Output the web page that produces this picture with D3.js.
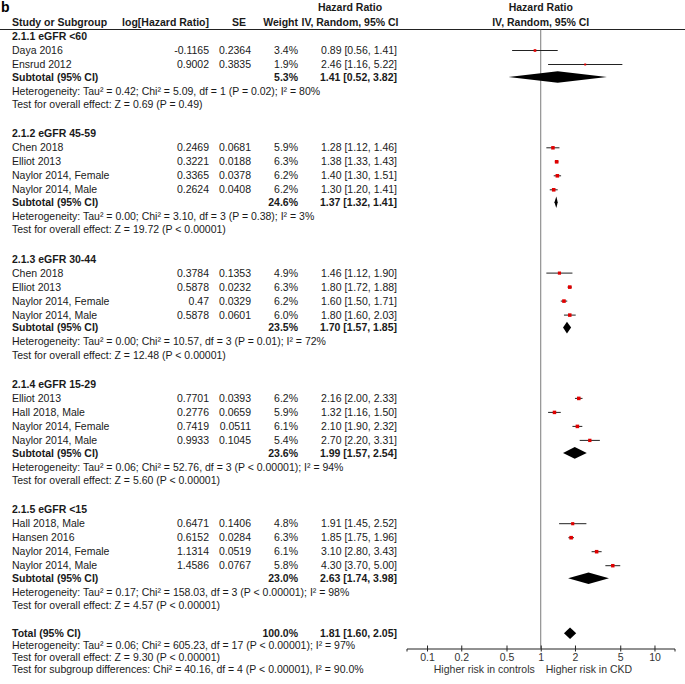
<!DOCTYPE html>
<html>
<head>
<meta charset="utf-8">
<script src="https://cdn.jsdelivr.net/npm/d3@7/dist/d3.min.js"></script>
<style>
  body { margin: 0; background: #fff; }
  text { font-family: "Liberation Sans", Arial, sans-serif; font-size: 10.5px; fill: #1a1a1a; }
  .b { font-weight: bold; }
</style>
</head>
<body>
<div id="chart"></div>
<script>
// Subgroups
const groupLabels = ["2.1.1 eGFR <60", "2.1.2 eGFR 45-59", "2.1.3 eGFR 30-44", "2.1.4 eGFR 15-29", "2.1.5 eGFR <15"];

// Studies (flat, with subgroup index)
const studyGroup = [0, 0, 1, 1, 1, 1, 2, 2, 2, 2, 3, 3, 3, 3, 4, 4, 4, 4];
const studyNames = [
  "Daya 2016", "Ensrud 2012",
  "Chen 2018", "Elliot 2013", "Naylor 2014, Female", "Naylor 2014, Male",
  "Chen 2018", "Elliot 2013", "Naylor 2014, Female", "Naylor 2014, Male",
  "Elliot 2013", "Hall 2018, Male", "Naylor 2014, Female", "Naylor 2014, Male",
  "Hall 2018, Male", "Hansen 2016", "Naylor 2014, Female", "Naylor 2014, Male"
];
const logHR = [-0.1165, 0.9002, 0.2469, 0.3221, 0.3365, 0.2624, 0.3784, 0.5878, 0.47, 0.5878,
  0.7701, 0.2776, 0.7419, 0.9933, 0.6471, 0.6152, 1.1314, 1.4586];
const seVals = [0.2364, 0.3835, 0.0681, 0.0188, 0.0378, 0.0408, 0.1353, 0.0232, 0.0329, 0.0601,
  0.0393, 0.0659, 0.0511, 0.1045, 0.1406, 0.0284, 0.0519, 0.0767];
const weights = [3.4, 1.9, 5.9, 6.3, 6.2, 6.2, 4.9, 6.3, 6.2, 6.0, 6.2, 5.9, 6.1, 5.4, 4.8, 6.3, 6.1, 5.8];
const hrVals = [0.89, 2.46, 1.28, 1.38, 1.40, 1.30, 1.46, 1.80, 1.60, 1.80, 2.16, 1.32, 2.10, 2.70, 1.91, 1.85, 3.10, 4.30];
const hrLow = [0.56, 1.16, 1.12, 1.33, 1.30, 1.20, 1.12, 1.72, 1.50, 1.60, 2.00, 1.16, 1.90, 2.20, 1.45, 1.75, 2.80, 3.70];
const hrHigh = [1.41, 5.22, 1.46, 1.43, 1.51, 1.41, 1.90, 1.88, 1.71, 2.03, 2.33, 1.50, 2.32, 3.31, 2.52, 1.96, 3.43, 5.00];

// Subtotals
const subWeights = [5.3, 24.6, 23.5, 23.6, 23.0];
const subHR = [1.41, 1.37, 1.70, 1.99, 2.63];
const subLow = [0.52, 1.32, 1.57, 1.57, 1.74];
const subHigh = [3.82, 1.41, 1.85, 2.54, 3.98];
const hetTexts = [
  "Heterogeneity: Tau² = 0.42; Chi² = 5.09, df = 1 (P = 0.02); I² = 80%",
  "Heterogeneity: Tau² = 0.00; Chi² = 3.10, df = 3 (P = 0.38); I² = 3%",
  "Heterogeneity: Tau² = 0.00; Chi² = 10.57, df = 3 (P = 0.01); I² = 72%",
  "Heterogeneity: Tau² = 0.06; Chi² = 52.76, df = 3 (P < 0.00001); I² = 94%",
  "Heterogeneity: Tau² = 0.17; Chi² = 158.03, df = 3 (P < 0.00001); I² = 98%"
];
const effectTexts = [
  "Test for overall effect: Z = 0.69 (P = 0.49)",
  "Test for overall effect: Z = 19.72 (P < 0.00001)",
  "Test for overall effect: Z = 12.48 (P < 0.00001)",
  "Test for overall effect: Z = 5.60 (P < 0.00001)",
  "Test for overall effect: Z = 4.57 (P < 0.00001)"
];

// Overall
const totalWeight = 100.0;
const totalHR = 1.81, totalLow = 1.60, totalHigh = 2.05;
const totalTexts = [
  "Heterogeneity: Tau² = 0.06; Chi² = 605.23, df = 17 (P < 0.00001); I² = 97%",
  "Test for overall effect: Z = 9.30 (P < 0.00001)",
  "Test for subgroup differences: Chi² = 40.16, df = 4 (P < 0.00001), I² = 90.0%"
];

// Axis
const axisTicks = [0.1, 0.2, 0.5, 1, 2, 5, 10];
const axisLabels = ["Higher risk in controls", "Higher risk in CKD"];

const width = 685, height = 684;
const svg = d3.select("#chart").append("svg")
  .attr("width", width)
  .attr("height", height);

// columns
const colName = 12, colLog = 209, colSE = 251, colW = 298, colCI = 397, colHead = 350;
const axisY = 648.5;

// forest scale (log)
const x = d3.scaleLog().domain([0.066, 15]).range([406.5, 674.5]);
const sq = d3.scaleSqrt().domain([0, 6.3]).range([0, 3.6]);

const fmt2 = d3.format(".2f");
const ciText = (h, l, u) => `${fmt2(h)} [${fmt2(l)}, ${fmt2(u)}]`;

function txt(xp, yp, s, anchor, bold) {
  return svg.append("text")
    .attr("x", xp).attr("y", yp).attr("dy", "0.35em")
    .attr("text-anchor", anchor || "start")
    .attr("class", bold ? "b" : null)
    .text(s);
}

// header
svg.append("text").attr("x", 1).attr("y", 12)
  .style("font-size", "14px").style("font-weight", "bold").style("fill", "#000").text("b");
txt(colHead, 7.5, "Hazard Ratio", "middle", true);
txt(x(1), 7.5, "Hazard Ratio", "middle", true);
txt(colName, 22.5, "Study or Subgroup", "start", true);
txt(colLog, 22.5, "log[Hazard Ratio]", "end", true);
txt(246, 22.5, "SE", "end", true);
txt(colW, 22.5, "Weight", "end", true);
txt(colHead, 22.5, "IV, Random, 95% CI", "middle", true);
txt(x(1), 22.5, "IV, Random, 95% CI", "middle", true);
svg.append("line").attr("x1", 0).attr("x2", width).attr("y1", 29.5).attr("y2", 29.5)
  .attr("stroke", "#222").attr("stroke-width", 1);

// vertical line of no effect
svg.append("line").attr("x1", x(1)).attr("x2", x(1)).attr("y1", 29.5).attr("y2", axisY)
  .attr("stroke", "#7a7a7a").attr("stroke-width", 1);

function diamond(yc, h, l, u) {
  const hh = 5.8;
  svg.append("path")
    .attr("d", `M${x(l)},${yc}L${x(h)},${yc - hh}L${x(u)},${yc}L${x(h)},${yc + hh}Z`)
    .attr("fill", "#000");
}

// rows
let y = 36.5;
groupLabels.forEach((label, g) => {
  txt(colName, y, label, "start", true);
  d3.range(studyNames.length).filter(i => studyGroup[i] === g).forEach(i => {
    y += 14;
    txt(colName, y, studyNames[i]);
    txt(colLog, y, String(logHR[i]), "end");
    txt(colSE, y, String(seVals[i]), "end");
    txt(colW, y, weights[i].toFixed(1) + "%", "end");
    txt(colCI, y, ciText(hrVals[i], hrLow[i], hrHigh[i]), "end");
    svg.append("line")
      .attr("x1", x(hrLow[i])).attr("x2", x(hrHigh[i]))
      .attr("y1", y).attr("y2", y)
      .attr("stroke", "#222").attr("stroke-width", 1);
    const s = sq(weights[i]);
    svg.append("rect")
      .attr("x", x(hrVals[i]) - s / 2).attr("y", y - s / 2)
      .attr("width", s).attr("height", s)
      .attr("fill", "#e00000");
  });
  y += 12.5;
  txt(colName, y, "Subtotal (95% CI)", "start", true);
  txt(colW, y, subWeights[g].toFixed(1) + "%", "end", true);
  txt(colCI, y, ciText(subHR[g], subLow[g], subHigh[g]), "end", true);
  diamond(y, subHR[g], subLow[g], subHigh[g]);
  y += 14;
  txt(colName, y, hetTexts[g]);
  y += 13.5;
  txt(colName, y, effectTexts[g]);
  y += 29.3;
});

// total
y -= 1.8;
txt(colName, y, "Total (95% CI)", "start", true);
txt(colW, y, totalWeight.toFixed(1) + "%", "end", true);
txt(colCI, y, ciText(totalHR, totalLow, totalHigh), "end", true);
diamond(y, totalHR, totalLow, totalHigh);
totalTexts.forEach(t => {
  y += 12;
  txt(colName, y, t);
});

// axis
const axis = d3.axisBottom(x)
  .tickValues(axisTicks)
  .tickFormat(d => String(d))
  .tickSizeOuter(0)
  .tickSize(3);
const ag = svg.append("g").attr("transform", `translate(0,${axisY})`).call(axis);
ag.select(".domain").attr("stroke", "#222");
ag.selectAll(".tick line").attr("y1", -3).attr("y2", 3).attr("stroke", "#222");
ag.selectAll(".tick text")
  .attr("y", 5).attr("dy", "0.71em")
  .style("font-family", "'Liberation Sans', Arial, sans-serif")
  .style("font-size", "10.5px").style("fill", "#333");
svg.append("text").attr("x", x(1) - 6).attr("y", 669.5).attr("dy", "0.35em")
  .attr("text-anchor", "end").style("fill", "#333").text(axisLabels[0]);
svg.append("text").attr("x", x(1) + 5).attr("y", 669.5).attr("dy", "0.35em")
  .attr("text-anchor", "start").style("fill", "#333").text(axisLabels[1]);
</script>
</body>
</html>
